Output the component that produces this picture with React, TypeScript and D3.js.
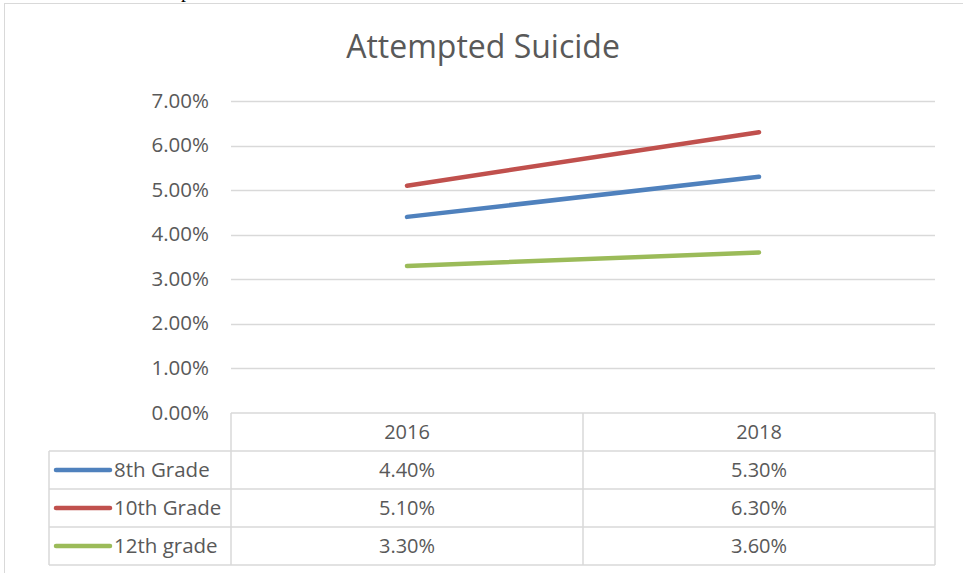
import React, { useEffect, useRef } from 'react';
import * as d3 from 'd3';

// chart values
const years = ['2016', '2018'];
const seriesNames = ['8th Grade', '10th Grade', '12th grade'];
const grade8 = [4.4, 5.3];
const grade10 = [5.1, 6.3];
const grade12 = [3.3, 3.6];
const yTicks = [0, 1, 2, 3, 4, 5, 6, 7];
const colors = ['#4F81BD', '#C0504D', '#9BBB59'];

const FONT = '"Open Sans", Lato, sans-serif';

const App = () => {
  const svgRef = useRef<SVGSVGElement>(null);

  useEffect(() => {
    const svg = d3.select(svgRef.current);
    svg.selectAll('*').remove();

    const width = 963, height = 573;
    const plotLeft = 231, plotRight = 935;
    const plotTop = 101, plotBottom = 413;
    const rowH = 38;
    const tableLeft = 49;

    const series = [grade8, grade10, grade12];

    const x = d3.scaleBand().domain(years).range([plotLeft, plotRight]);
    const y = d3.scaleLinear().domain([0, 7]).range([plotBottom, plotTop]);

    svg.append('rect').attr('width', width).attr('height', height).attr('fill', 'white');

    // leftover text from the document above the chart
    svg.append('text').attr('x', 181).attr('y', -3)
      .attr('font-family', '"Liberation Serif", serif').attr('font-size', 20)
      .attr('fill', '#000').text('p');

    // chart border
    svg.append('rect').attr('x', 4.5).attr('y', 3.5)
      .attr('width', 980).attr('height', 600)
      .attr('fill', 'none').attr('stroke', '#d9d9d9').attr('stroke-width', 1);

    // title
    svg.append('text').attr('x', 483).attr('y', 58)
      .attr('text-anchor', 'middle').attr('font-family', FONT)
      .attr('font-size', 32).attr('fill', '#595959')
      .text('Attempted Suicide');

    // gridlines (0 line is the table top)
    const grid = svg.append('g');
    grid.selectAll('line').data(yTicks.filter(d => d > 0)).enter().append('line')
      .attr('x1', plotLeft).attr('x2', plotRight)
      .attr('y1', d => Math.round(y(d)) + 0.5).attr('y2', d => Math.round(y(d)) + 0.5)
      .attr('stroke', '#d9d9d9').attr('stroke-width', 1.5);

    // y tick labels
    svg.append('g').selectAll('text').data(yTicks).enter().append('text')
      .attr('x', 209).attr('y', d => y(d) + 6.5)
      .attr('text-anchor', 'end').attr('font-family', FONT)
      .attr('font-size', 20.5).attr('fill', '#595959')
      .text(d => d3.format('.2f')(d) + '%');

    // lines
    const line = d3.line<number>()
      .x((d, i) => (x(years[i]) as number) + x.bandwidth() / 2)
      .y(d => y(d));
    svg.append('g').selectAll('path').data(series).enter().append('path')
      .attr('d', d => line(d))
      .attr('fill', 'none')
      .attr('stroke', (d, i) => colors[i])
      .attr('stroke-width', 4.5)
      .attr('stroke-linecap', 'round');

    // data table
    const table = svg.append('g');
    const tableBottom = plotBottom + rowH * (series.length + 1);
    const gridColor = '#d9d9d9';
    const hLines = [
      { x1: plotLeft, x2: plotRight, y: plotBottom },
      ...d3.range(1, series.length + 2).map(r => ({ x1: tableLeft, x2: plotRight, y: plotBottom + rowH * r }))
    ];
    table.selectAll('line.h').data(hLines).enter().append('line')
      .attr('x1', d => d.x1).attr('x2', d => d.x2)
      .attr('y1', d => d.y).attr('y2', d => d.y)
      .attr('stroke', gridColor).attr('stroke-width', 1.5);
    const vLines = [
      { x: tableLeft, y1: plotBottom + rowH, y2: tableBottom },
      { x: plotLeft, y1: plotBottom, y2: tableBottom },
      { x: (x(years[1]) as number), y1: plotBottom, y2: tableBottom },
      { x: plotRight, y1: plotBottom, y2: tableBottom }
    ];
    table.selectAll('line.v').data(vLines).enter().append('line')
      .attr('x1', d => d.x).attr('x2', d => d.x)
      .attr('y1', d => d.y1).attr('y2', d => d.y2)
      .attr('stroke', gridColor).attr('stroke-width', 1.5);

    // header
    table.selectAll('text.year').data(years).enter().append('text')
      .attr('x', d => (x(d) as number) + x.bandwidth() / 2)
      .attr('y', plotBottom + rowH / 2 + 7)
      .attr('text-anchor', 'middle').attr('font-family', FONT)
      .attr('font-size', 20).attr('fill', '#595959').text(d => d);

    series.forEach((vals, r) => {
      const cy = plotBottom + rowH * (r + 1) + rowH / 2;
      table.append('line')
        .attr('x1', 56).attr('x2', 110).attr('y1', cy).attr('y2', cy)
        .attr('stroke', colors[r]).attr('stroke-width', 4.5).attr('stroke-linecap', 'round');
      table.append('text').attr('x', 114).attr('y', cy + 7)
        .attr('font-family', FONT).attr('font-size', 20.5).attr('fill', '#595959')
        .text(seriesNames[r]);
      table.selectAll(null).data(vals).enter().append('text')
        .attr('x', (d, i) => (x(years[i]) as number) + x.bandwidth() / 2)
        .attr('y', cy + 7)
        .attr('text-anchor', 'middle').attr('font-family', FONT)
        .attr('font-size', 20).attr('fill', '#595959')
        .text(d => d3.format('.2f')(d) + '%');
    });
  }, []);

  return (
    <svg ref={svgRef} width={963} height={573}
      style={{ position: 'absolute', left: 0, top: 0, display: 'block' }} />
  );
};

export default App;
